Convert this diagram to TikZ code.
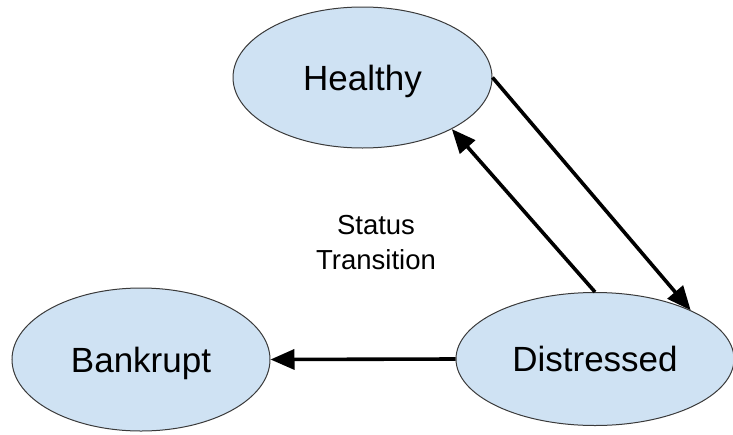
\documentclass[tikz,border=0pt]{standalone}
\usepackage{fontspec}
\setmainfont{Liberation Sans}
\usetikzlibrary{shapes.geometric,arrows.meta}
\definecolor{statefill}{HTML}{CFE2F3}
\definecolor{stateline}{HTML}{3A3A3A}
\begin{document}
\begin{tikzpicture}[x=1pt,y=-1pt,
  state/.style={ellipse,draw=stateline,line width=1pt,fill=statefill,inner sep=0pt,
    text height=25pt,text depth=0pt,
    font=\fontsize{35}{42}\selectfont},
  trans/.style={line width=3.6pt,-{Triangle[length=24pt,width=20pt]}},
  note/.style={align=center,font=\fontsize{27.5}{35}\selectfont}]
  \useasboundingbox (0,0) rectangle (733,434);
  % three states of a firm
  \node[state,minimum width=259pt,minimum height=141pt] (H) at (362.5,77.5) {Healthy};
  \node[state,minimum width=258pt,minimum height=143pt] (B) at (141,359.5) {Bankrupt};
  \node[state,minimum width=278pt,minimum height=133pt] (D) at (595,359) {Distressed};
  \node[note] (T) at (376,243) {Status\\Transition};
  % transitions between states
  \draw[trans] (H.east) -- (D.27);
  \draw[trans] (D.north) -- (H.-30);
  \draw[trans] (D.west) -- (B.east);
\end{tikzpicture}
\end{document}
